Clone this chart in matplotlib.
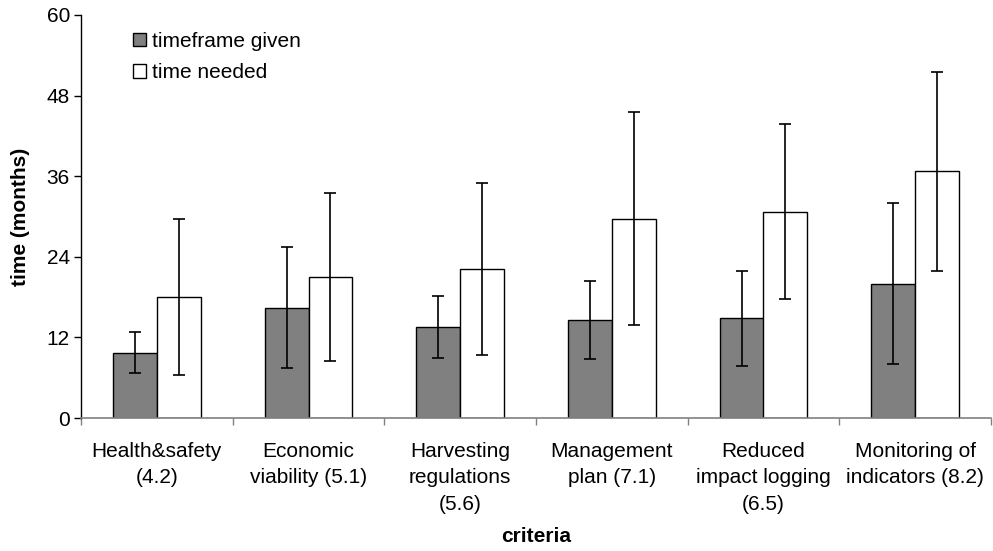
import numpy as np
import matplotlib
matplotlib.use('Agg')
import matplotlib.pyplot as plt
from matplotlib.patches import Patch

plt.rcParams['font.family'] = ['Liberation Sans', 'DejaVu Sans']

categories = ['Health&safety\n(4.2)', 'Economic\nviability (5.1)', 'Harvesting\nregulations\n(5.6)',
              'Management\nplan (7.1)', 'Reduced\nimpact logging\n(6.5)', 'Monitoring of\nindicators (8.2)']
given_mean = [9.75, 16.4, 13.6, 14.6, 14.85, 20.0]
given_err = [3.1, 9.0, 4.6, 5.8, 7.1, 12.0]
needed_mean = [18.05, 21.0, 22.2, 29.7, 30.7, 36.7]
needed_err = [11.6, 12.5, 12.85, 15.8, 13.0, 14.8]
yticks = [0, 12, 24, 36, 48, 60]

fig = plt.figure(figsize=(9.93, 5.51), dpi=100)
ax = fig.add_axes([81 / 993, 1 - 418 / 551, 910 / 993, 403 / 551])

x = np.arange(len(categories))
w = 0.29
ax.bar(x - w / 2, given_mean, w, color='#808080', edgecolor='black', linewidth=1.0, zorder=2)
ax.bar(x + w / 2, needed_mean, w, color='white', edgecolor='black', linewidth=1.0, zorder=2)
ax.errorbar(x - w / 2, given_mean, yerr=given_err, fmt='none', ecolor='black',
            elinewidth=1.2, capsize=4.5, capthick=1.2, zorder=3)
ax.errorbar(x + w / 2, needed_mean, yerr=needed_err, fmt='none', ecolor='black',
            elinewidth=1.2, capsize=4.5, capthick=1.2, zorder=3)

ax.set_xlim(-0.5, len(categories) - 0.5)
ax.set_ylim(0, 60)
ax.set_yticks(yticks)
ax.tick_params(axis='y', labelsize=15, length=5, width=1, direction='out', pad=3)

ax.set_xticks(x)
ax.set_xticklabels(categories, fontsize=15, linespacing=1.5, va='top')
ax.tick_params(axis='x', which='major', length=0, pad=17)
ax.set_xticks(np.arange(len(categories) + 1) - 0.5, minor=True)
ax.tick_params(axis='x', which='minor', length=5, width=1, color='#808080', direction='out')

ax.spines['top'].set_visible(False)
ax.spines['right'].set_visible(False)
ax.spines['bottom'].set_color('#808080')
ax.spines['bottom'].set_linewidth(1.2)
ax.spines['left'].set_linewidth(1.0)

ax.set_ylabel('time (months)', fontsize=15, fontweight='bold', labelpad=12)
ax.set_xlabel('criteria', fontsize=15, fontweight='bold', labelpad=10)

handles = [Patch(facecolor='#808080', edgecolor='black', label='timeframe given'),
           Patch(facecolor='white', edgecolor='black', label='time needed')]
ax.legend(handles=handles, loc='upper left', bbox_to_anchor=(0.037, 1.005), frameon=False,
          fontsize=15, handlelength=0.6, handleheight=0.6, handletextpad=0.3, labelspacing=0.6)

fig.savefig('out.png', dpi=100)
